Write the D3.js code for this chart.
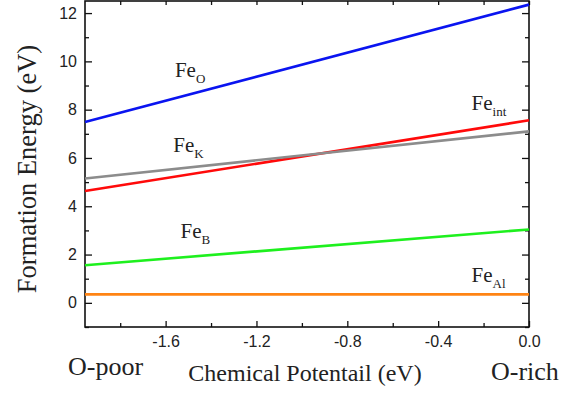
<!DOCTYPE html>
<head>
<meta charset="utf-8">
<script src="https://d3js.org/d3.v7.min.js"></script>
<style>
body { margin: 0; background: #fff; }
.tick text { font-family: "Liberation Sans", Arial, sans-serif; font-size: 16px; fill: #222; }
.serif { font-family: "Liberation Serif", "Times New Roman", serif; fill: #222; }
</style>
</head>
<body>
<div id="chart"></div>
<script>
// chemical potential range (eV) and formation energies at each end
var muRange = [-1.955, 0];
var defects = ["O", "int", "K", "B", "Al"];
var energyPoor = [7.49, 4.63, 5.15, 1.56, 0.35];
var energyRich = [12.35, 7.56, 7.10, 3.04, 0.35];
var colors = ["#0a14f0", "#ff0a0a", "#8c8c8c", "#1ef01e", "#ff8414"];
// label anchor points in data units
var labelMu = [-1.559, -0.253, -1.566, -1.534, -0.253];
var labelE = [9.35, 8.0, 6.25, 2.68, 0.87];
var xTicks = [-1.6, -1.2, -0.8, -0.4, 0.0];
var yTicks = [0, 2, 4, 6, 8, 10, 12];

var margin = {top: 1, right: 48, bottom: 67, left: 85},
  width = 577 - margin.left - margin.right,
  height = 394 - margin.top - margin.bottom;

var svg = d3.select("#chart")
  .append("svg")
    .attr("width", 577)
    .attr("height", 394)
  .append("g")
    .attr("transform", "translate(" + margin.left + "," + margin.top + ")");

var x = d3.scaleLinear().domain(muRange).range([0, width]);
var y = d3.scaleLinear().domain([-1, 12.5]).range([height, 0]);

var xMinor = d3.range(-1.8, 0.01, 0.4).map(function(v){ return Math.round(v*10)/10; });
var yMinor = d3.range(-1, 12.5, 2);

// minor ticks (inward)
function minor(axis, scale, vals, tr) {
  svg.append("g").attr("transform", tr)
    .call(axis(scale).tickValues(vals).tickSize(-4).tickFormat(""))
    .call(function(g){ g.select(".domain").remove(); });
}
minor(d3.axisBottom, x, xMinor, "translate(0," + height + ")");
minor(d3.axisTop, x, xMinor.concat(xTicks), "translate(0,0)");
minor(d3.axisLeft, y, yMinor, "translate(0,0)");
minor(d3.axisRight, y, yMinor, "translate(" + width + ",0)");

var fmt = function(d) { return d3.format(".1f")(d).replace("\u2212", "-"); };

// major ticks
svg.append("g")
  .attr("transform", "translate(0," + height + ")")
  .call(d3.axisBottom(x).tickValues(xTicks).tickSize(-6).tickPadding(9)
        .tickFormat(fmt))
  .call(function(g){ g.select(".domain").remove(); });
svg.append("g")
  .call(d3.axisLeft(y).tickValues(yTicks).tickSize(-7).tickPadding(8)
        .tickFormat(d3.format("d")))
  .call(function(g){ g.select(".domain").remove(); });
svg.append("g")
  .attr("transform", "translate(" + width + ",0)")
  .call(d3.axisRight(y).tickValues(yTicks).tickSize(-7).tickFormat(""))
  .call(function(g){ g.select(".domain").remove(); });

svg.selectAll(".tick line").attr("stroke", "#111").attr("stroke-width", 1.3);

// frame
svg.append("rect")
  .attr("x", 0).attr("y", 0)
  .attr("width", width).attr("height", height)
  .attr("fill", "none").attr("stroke", "#111").attr("stroke-width", 1.6);

// lines
defects.forEach(function(d, i) {
  svg.append("line")
    .attr("x1", x(muRange[0])).attr("y1", y(energyPoor[i]))
    .attr("x2", x(muRange[1])).attr("y2", y(energyRich[i]))
    .attr("stroke", colors[i]).attr("stroke-width", 2.6);

  var t = svg.append("text").attr("class", "serif")
    .attr("x", x(labelMu[i])).attr("y", y(labelE[i]))
    .style("font-size", "21px");
  t.append("tspan").text("Fe");
  t.append("tspan").attr("dy", 6).style("font-size", "13px").text(d);
});

// axis titles
svg.append("text").attr("class", "serif")
  .attr("transform", "rotate(-90)")
  .attr("x", -168).attr("y", -49)
  .attr("text-anchor", "middle")
  .style("font-size", "26.5px")
  .text("Formation Energy (eV)");

svg.append("text").attr("class", "serif")
  .attr("x", 220).attr("y", 380)
  .attr("text-anchor", "middle")
  .style("font-size", "24px")
  .text("Chemical Potentail (eV)");

svg.append("text").attr("class", "serif")
  .attr("x", 68 - margin.left).attr("y", 374)
  .style("font-size", "26px")
  .text("O-poor");

svg.append("text").attr("class", "serif")
  .attr("x", 491 - margin.left).attr("y", 379)
  .style("font-size", "26px")
  .text("O-rich");
</script>
</body>
